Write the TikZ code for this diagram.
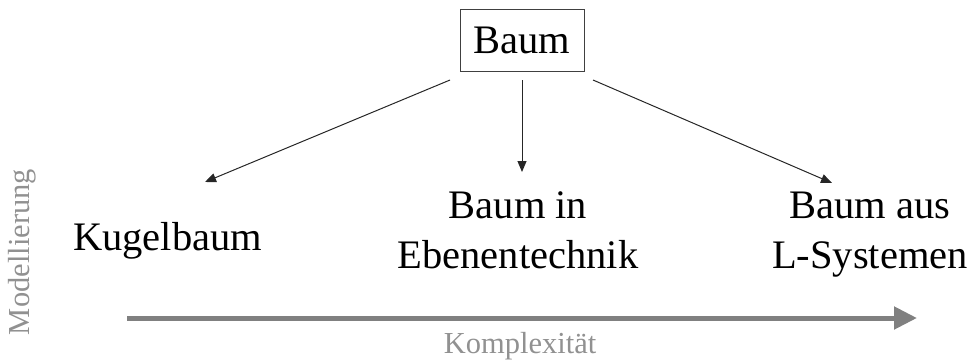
\documentclass[tikz,border=0pt]{standalone}
\usepackage{fontspec}
\setmainfont{Liberation Serif}
\usetikzlibrary{arrows.meta}

\definecolor{achse}{RGB}{128,128,128}
\definecolor{achstext}{RGB}{145,145,145}

\begin{document}
\begin{tikzpicture}[x=1pt,y=1pt,
   gross/.style={font=\fontsize{40.5}{50}\selectfont,inner sep=0pt},
   klein/.style={font=\fontsize{30.5}{36}\selectfont,text=achstext,inner sep=0pt},
   pfeil/.style={-{Triangle[length=11pt,width=9pt]},line width=1pt,black!85}]
   \useasboundingbox (0,0) rectangle (973,360);
   \node[gross,draw=black!75,line width=1pt,minimum width=124,minimum height=62] (baum) at (522,320) {Baum};
   \node[gross,anchor=base] (kugel) at (167.5,110) {Kugelbaum};
   \node[gross,anchor=base,align=center] (ebene) at (518,92) {Baum in\\Ebenentechnik};
   \node[gross,anchor=base,align=center] (lsys) at (870,92) {Baum aus\\L-Systemen};
   \coordinate (l0) at (450,280);
   \coordinate (l1) at (205,178);
   \coordinate (m0) at (522,280);
   \coordinate (m1) at (522,188);
   \coordinate (r0) at (593,280);
   \coordinate (r1) at (832,177);
   \draw[pfeil] (l0) -- (l1);
   \draw[pfeil] (m0) -- (m1);
   \draw[pfeil] (r0) -- (r1);
   % Achsen
   \coordinate (a0) at (127,42);
   \coordinate (a1) at (917,42);
   \draw[achse,line width=5pt,-{Triangle[length=23pt,width=22pt]}] (a0) -- (a1);
   \node[klein,anchor=base] (kompl) at (520,7) {Komplexität};
   \node[klein,rotate=90] (model) at (22,108) {Modellierung};
\end{tikzpicture}
\end{document}
